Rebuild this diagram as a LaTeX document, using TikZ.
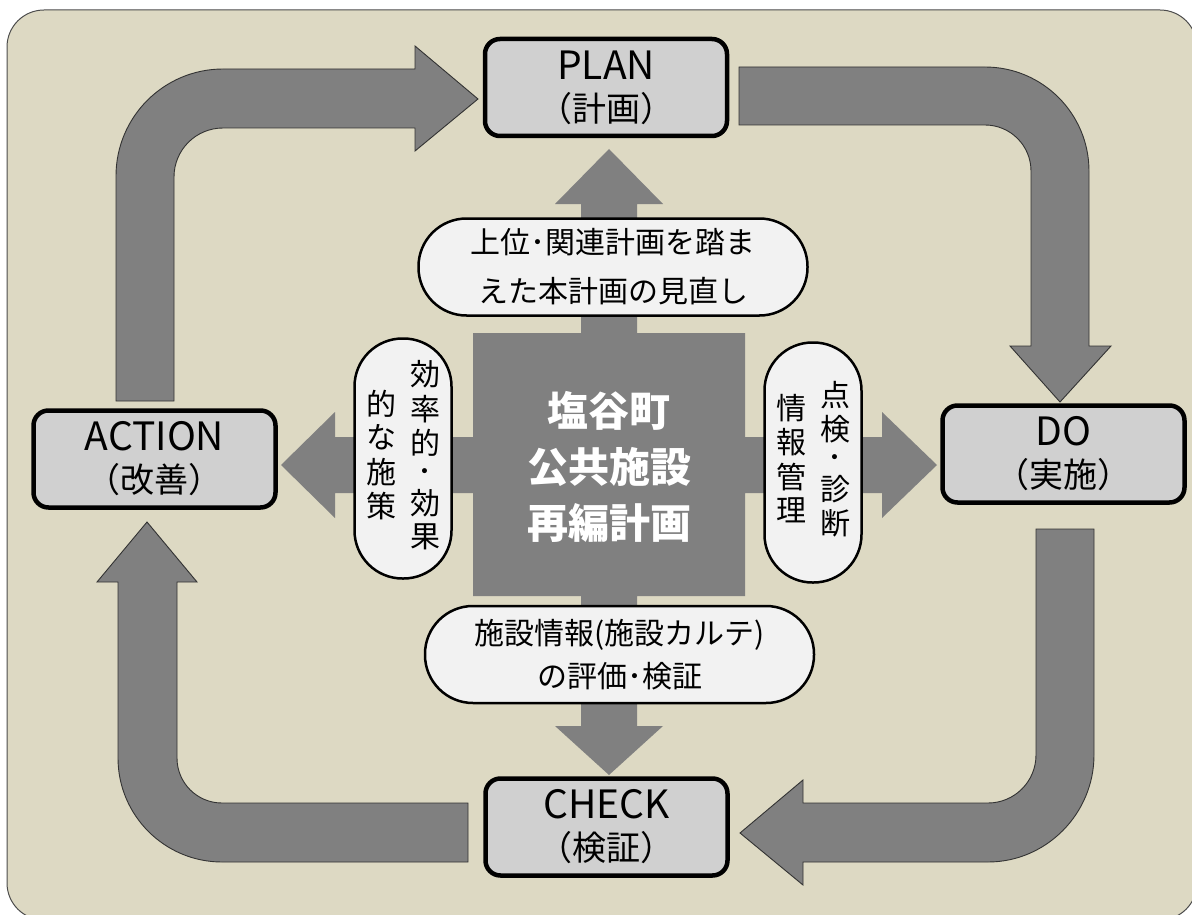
\documentclass[tikz,border=0pt]{standalone}
\usepackage{fontspec}
\setmainfont{Noto Sans CJK JP}
\definecolor{bgtan}{RGB}{221,217,195}
\definecolor{arrowgray}{RGB}{128,128,128}
\definecolor{boxgray}{RGB}{208,208,208}
\definecolor{bubblefill}{RGB}{242,242,242}
\newcommand{\vtxt}[1]{\begin{tabular}[c]{@{}c@{}}#1\end{tabular}}
\newcommand{\boxlines}[2]{{\fontsize{39}{42}\selectfont #1}\\{\fontsize{34}{42}\selectfont #2}}
\begin{document}
\begin{tikzpicture}[x=1pt,y=-1pt,
  bigarrow/.style={fill=arrowgray, draw=black!80, line width=0.9pt, line join=miter},
  crossfill/.style={fill=arrowgray},
  pdcabox/.style={draw=black, line width=4.5pt, fill=boxgray, rounded corners=15pt,
    inner sep=0pt, align=center, font=\fontsize{34}{42}\selectfont,
    minimum width=242pt, minimum height=97pt},
  bubble/.style={draw=black, line width=2.5pt, fill=bubblefill, rounded corners=48pt,
    inner sep=0pt, align=center},
]
\useasboundingbox (0,0) rectangle (1192,915);
% background panel
\begin{scope}
  \clip (0,0) rectangle (1192,915);
  \draw[fill=bgtan, draw=black!70, line width=1pt, rounded corners=37pt] (7,10) rectangle (1197,920);
\end{scope}

% central cross with four arrows
\fill[crossfill] (581,333) -- (581,204) -- (555,204) -- (609,149) -- (663,204) -- (637,204) -- (637,333)
  -- (745,333) -- (745,437) -- (882,437) -- (882,412) -- (937,465) -- (882,518) -- (882,493) -- (745,493)
  -- (745,596) -- (637,596) -- (637,726) -- (663,726) -- (609,775) -- (555,726) -- (581,726) -- (581,596)
  -- (473,596) -- (473,493) -- (335,493) -- (335,518) -- (281,465) -- (335,412) -- (335,437) -- (473,437)
  -- (473,333) -- cycle;

% title
\node[font=\fontsize{41}{56}\selectfont\bfseries, text=white, align=center] (title) at (609,467)
  {塩谷町\\公共施設\\再編計画};

% bubbles
\node[bubble, minimum width=389pt, minimum height=97pt, font=\fontsize{30}{49}\selectfont] (bplan) at (613,267)
  {上位･関連計画を踏ま\\えた本計画の見直し};
\node[bubble, minimum width=389pt, minimum height=97pt, font=\fontsize{30}{43}\selectfont] (bcheck) at (619.5,654.5)
  {施設情報(施設カルテ)\\の評価･検証};
\node[bubble, minimum width=97pt, minimum height=240pt, font=\fontsize{30}{31}\selectfont] (bact) at (403,458.5)
  {\begin{tabular}{@{}c@{\hspace{14pt}}c@{}}\vtxt{的\\な\\施\\策} & \vtxt{効\\率\\的\\[-3pt]･\\[-3pt]効\\果}\end{tabular}};
\node[bubble, minimum width=97pt, minimum height=240pt, font=\fontsize{30}{31}\selectfont] (bdo) at (813,462.5)
  {\begin{tabular}{@{}c@{\hspace{14pt}}c@{}}\vtxt{情\\報\\管\\理} & \vtxt{点\\検\\[-3pt]･\\[-3pt]診\\断}\end{tabular}};

% PDCA boxes
\node[pdcabox] (plan) at (606,87.5) {\boxlines{PLAN}{（計画）}};
\node[pdcabox] (do) at (1063.5,454) {\boxlines{DO}{（実施）}};
\node[pdcabox] (check) at (606.5,827) {\boxlines{CHECK}{（検証）}};
\node[pdcabox] (action) at (154.5,459) {\boxlines{ACTION}{（改善）}};

% curved block arrows
% ACTION -> PLAN
\draw[bigarrow] (116,401) -- (116,176) .. controls (116,116.9) and (163.9,69) .. (223,69) -- (415,69)
  -- (415,46) -- (478,99) -- (415,151) -- (415,128) -- (223,128)
  .. controls (195.9,128) and (174,149.9) .. (174,177) -- (174,401) -- cycle;
% PLAN -> DO
\draw[bigarrow] (739,67) -- (985,67) .. controls (1042.4,67) and (1089,113.6) .. (1089,171) -- (1089,346)
  -- (1111,346) -- (1060,402) -- (1010,346) -- (1031,346) -- (1031,171)
  .. controls (1031,145.6) and (1010.4,125) .. (985,125) -- (739,125) -- cycle;
% DO -> CHECK
\draw[bigarrow] (1036,529) -- (1094,529) -- (1094,755) .. controls (1094,813.5) and (1046.5,862) .. (988,862)
  -- (803,862) -- (803,885) -- (740,833) -- (803,780) -- (803,803) -- (988,803)
  .. controls (1014.5,803) and (1036,781.5) .. (1036,755) -- cycle;
% CHECK -> ACTION
\draw[bigarrow] (468,862) -- (222,862) .. controls (164.6,862) and (118,815.4) .. (118,758) -- (118,582)
  -- (97,582) -- (147,522) -- (197,582) -- (177,582) -- (177,758)
  .. controls (177,782.9) and (197.1,803) .. (222,803) -- (468,803) -- cycle;
\end{tikzpicture}
\end{document}
